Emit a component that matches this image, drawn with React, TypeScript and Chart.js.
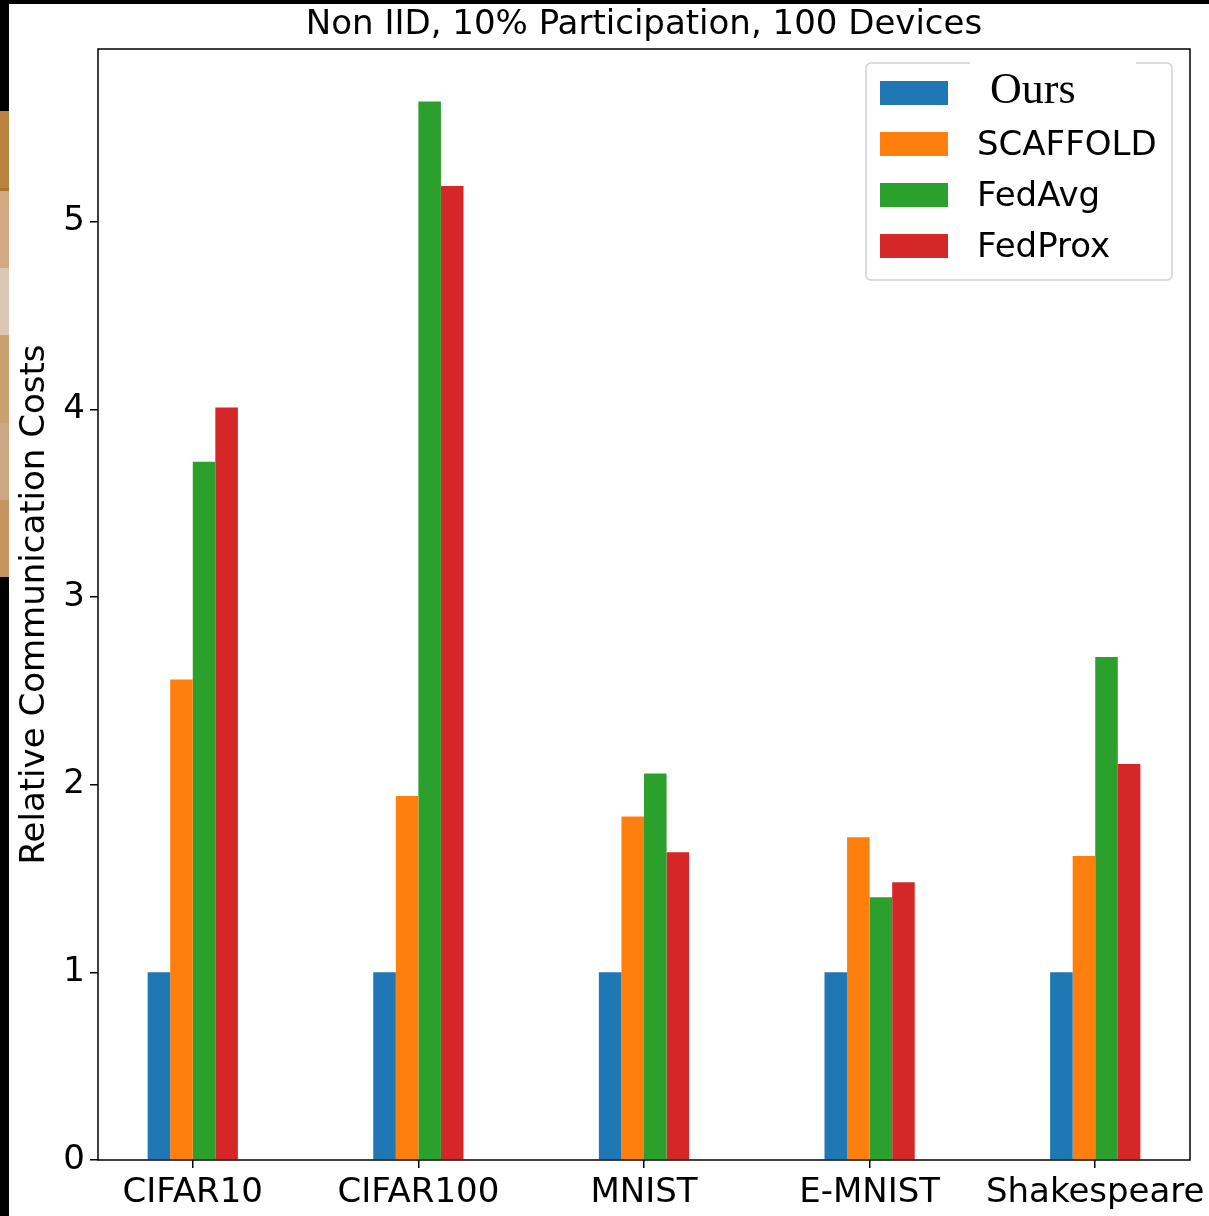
import React, { useEffect, useRef } from "react";
import { Chart, registerables } from "chart.js";

Chart.register(...registerables);

const CATEGORIES = ["CIFAR10", "CIFAR100", "MNIST", "E-MNIST", "Shakespeare"];
const SERIES_NAMES = ["Ours", "SCAFFOLD", "FedAvg", "FedProx"];
const OURS = [1, 1, 1, 1, 1];
const SCAFFOLD = [2.56, 1.94, 1.83, 1.72, 1.62];
const FEDAVG = [3.72, 5.64, 2.06, 1.4, 2.68];
const FEDPROX = [4.01, 5.19, 1.64, 1.48, 2.11];
const Y_TICKS = [0, 1, 2, 3, 4, 5];
const COLORS = ["#1f77b4", "#ff7f0e", "#2ca02c", "#d62728"];
const TITLE = "Non IID, 10% Participation, 100 Devices";
const Y_LABEL = "Relative Communication Costs";

const FONT = "'DejaVu Sans', sans-serif";

const framePlugin = {
  id: "frame",
  afterDatasetsDraw(chart: any) {
    const { ctx, chartArea } = chart;
    ctx.save();
    ctx.strokeStyle = "#000";
    ctx.lineWidth = 1.5;
    ctx.strokeRect(chartArea.left, chartArea.top, chartArea.right - chartArea.left, chartArea.bottom - chartArea.top);
    ctx.restore();
  },
};

const legendPlugin = {
  id: "customLegend",
  afterDraw(chart: any) {
    const { ctx, chartArea } = chart;
    const w = 306;
    const h = 217;
    const x = chartArea.right - 18 - w;
    const y = chartArea.top + 14;
    ctx.save();
    ctx.beginPath();
    ctx.roundRect(x, y, w, h, 5);
    ctx.fillStyle = "rgba(255,255,255,0.85)";
    ctx.fill();
    ctx.strokeStyle = "#d2d2d2";
    ctx.lineWidth = 1.5;
    ctx.stroke();
    // white patch behind the pasted "Ours" label
    ctx.fillStyle = "#fff";
    ctx.fillRect(x + 104, y - 2, 166, 38);
    chart.data.datasets.forEach((ds: any, i: number) => {
      const cy = y + 30 + i * 51;
      ctx.fillStyle = ds.backgroundColor;
      ctx.fillRect(x + 14, cy - 12, 68, 24);
      ctx.fillStyle = "#000";
      ctx.textBaseline = "middle";
      ctx.textAlign = "left";
      if (i === 0) {
        ctx.font = "44px 'Liberation Serif', serif";
        ctx.fillText(ds.label, x + 124, cy - 2);
      } else {
        ctx.font = "34px " + FONT;
        ctx.fillText(ds.label, x + 111, cy + 2);
      }
    });
    ctx.restore();
  },
};

const SERIES = [OURS, SCAFFOLD, FEDAVG, FEDPROX];

export default function App() {
  const ref = useRef<HTMLCanvasElement | null>(null);

  useEffect(() => {
    if (!ref.current) return;
    const chart = new Chart(ref.current, {
      type: "bar",
      data: {
        datasets: SERIES.map((vals, si) => ({
          label: SERIES_NAMES[si],
          data: vals.map((v, i) => ({ x: i, y: v })),
          backgroundColor: COLORS[si],
          borderWidth: 0,
          categoryPercentage: 0.4,
          barPercentage: 1.0,
        })),
      },
      options: {
        animation: false,
        responsive: false,
        devicePixelRatio: 1,
        layout: { padding: { left: 0, right: 19, top: 0, bottom: 0 } },
        plugins: {
          legend: { display: false },
          tooltip: { enabled: false },
          title: {
            display: true,
            text: TITLE,
            fullSize: false,
            color: "#000",
            font: { family: FONT, size: 34, weight: "normal" },
            padding: { top: 5, bottom: 3.2 },
          },
        },
        scales: {
          x: {
            type: "linear",
            min: -0.42,
            max: 4.42,
            offset: false,
            border: { display: false },
            grid: { display: true, offset: false, drawOnChartArea: false, drawTicks: true, tickLength: 8, color: "#000", lineWidth: 1.5 },
            ticks: {
              autoSkip: false,
              maxRotation: 0,
              color: "#000",
              padding: 5,
              font: { family: FONT, size: 34 },
              callback: (v: any) => CATEGORIES[Math.round(Number(v))] ?? "",
            },
            afterBuildTicks: (axis: any) => {
              axis.ticks = CATEGORIES.map((_, i) => ({ value: i }));
            },
            afterFit: (s: any) => {
              s.height = 56;
              s.paddingLeft = 0;
              s.paddingRight = 0;
            },
          },
          y: {
            type: "linear",
            min: 0,
            max: 5.92,
            border: { display: false },
            grid: { display: true, drawOnChartArea: false, drawTicks: true, tickLength: 8, color: "#000", lineWidth: 1.5 },
            ticks: {
              color: "#000",
              padding: 5,
              font: { family: FONT, size: 34 },
              callback: (v: any) => String(v),
            },
            afterBuildTicks: (axis: any) => {
              axis.ticks = Y_TICKS.map((v) => ({ value: v }));
            },
            afterFit: (s: any) => {
              s.width = 98;
              s.paddingTop = 0;
              s.paddingBottom = 0;
            },
            title: {
              display: true,
              text: Y_LABEL,
              color: "#000",
              font: { family: FONT, size: 34 },
              padding: { top: 14.6, bottom: 0 },
            },
          },
        },
      },
      plugins: [framePlugin, legendPlugin],
    } as any);
    return () => chart.destroy();
  }, []);

  const brown: [number, number, string][] = [
    [111, 188, "#b9843f"],
    [188, 191, "#a87535"],
    [191, 268, "#d2aa82"],
    [268, 335, "#dcc6b4"],
    [335, 423, "#c9a070"],
    [423, 500, "#cba783"],
    [500, 577, "#c49560"],
  ];

  return (
    <div style={{ position: "absolute", left: 0, top: 0, width: 1209, height: 1216, background: "#000", overflow: "hidden" }}>
      <div style={{ position: "absolute", left: 9, top: 4, right: 0, bottom: 0, background: "#fff" }} />
      {brown.map(([a, b, c], i) => (
        <div key={i} style={{ position: "absolute", left: 0, top: a, width: 9, height: b - a, background: c }} />
      ))}
      <canvas ref={ref} width={1209} height={1216} style={{ position: "absolute", left: 0, top: 0, width: 1209, height: 1216 }} />
    </div>
  );
}
